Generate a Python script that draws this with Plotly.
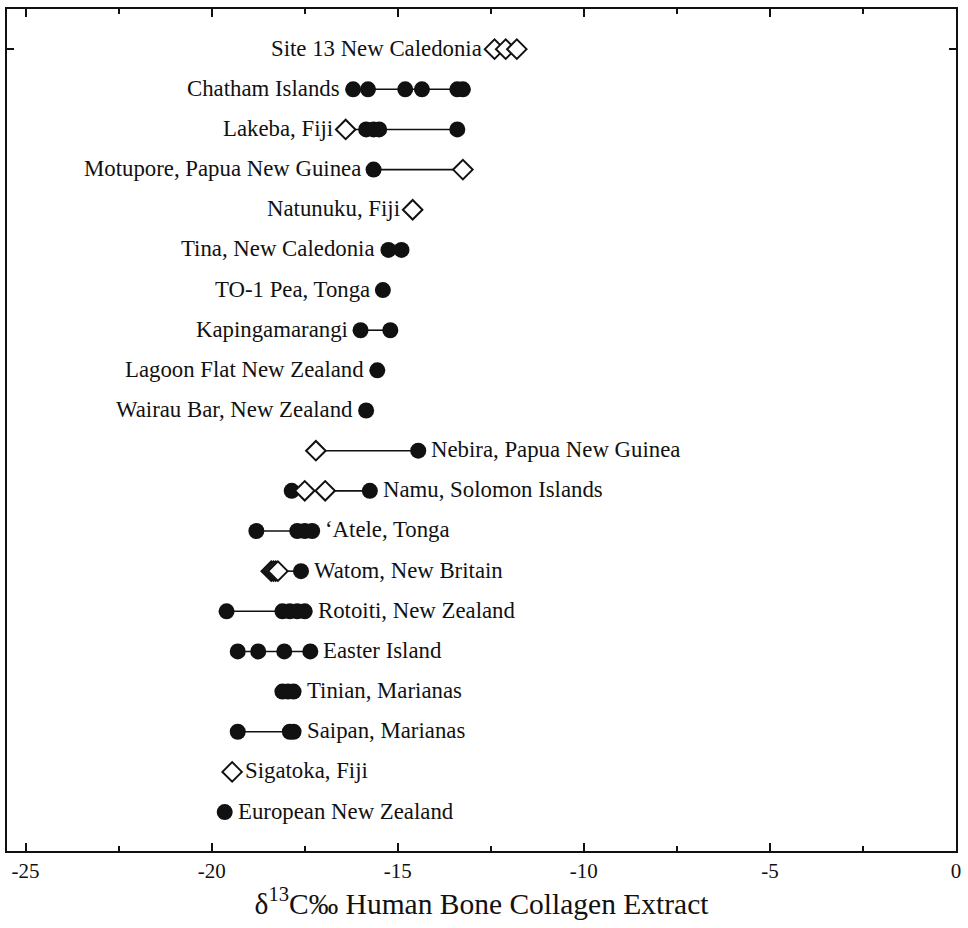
import plotly.graph_objects as go

# Sites, top to bottom
sites = [
    "Site 13 New Caledonia",
    "Chatham Islands",
    "Lakeba, Fiji",
    "Motupore, Papua New Guinea",
    "Natunuku, Fiji",
    "Tina, New Caledonia",
    "TO-1 Pea, Tonga",
    "Kapingamarangi",
    "Lagoon Flat New Zealand",
    "Wairau Bar, New Zealand",
    "Nebira, Papua New Guinea",
    "Namu, Solomon Islands",
    "\u2018Atele, Tonga",
    "Watom, New Britain",
    "Rotoiti, New Zealand",
    "Easter Island",
    "Tinian, Marianas",
    "Saipan, Marianas",
    "Sigatoka, Fiji",
    "European New Zealand",
]

# delta13C values (per mil) shown as filled circles
filled_values = [
    [],
    [-16.2, -15.8, -14.8, -14.35, -13.4, -13.25],
    [-15.85, -15.65, -15.5, -13.4],
    [-15.65],
    [],
    [-15.25, -14.9],
    [-15.4],
    [-16.0, -15.2],
    [-15.55],
    [-15.85],
    [-14.45],
    [-17.85, -15.75],
    [-18.8, -17.7, -17.5, -17.3],
    [-17.6],
    [-19.6, -18.1, -17.9, -17.7, -17.5],
    [-19.3, -18.75, -18.05, -17.35],
    [-18.1, -17.95, -17.8],
    [-19.3, -17.9, -17.8],
    [],
    [-19.65],
]

# delta13C values (per mil) shown as open diamonds
open_values = [
    [-12.4, -12.1, -11.8],
    [],
    [-16.4],
    [-13.25],
    [-14.6],
    [],
    [],
    [],
    [],
    [],
    [-17.2],
    [-17.5, -16.95],
    [],
    [-18.4, -18.34, -18.28, -18.22],
    [],
    [],
    [],
    [],
    [-19.45],
    [],
]

x_ticks = [-25, -20, -15, -10, -5, 0]
x_title = "\u03b4<sup>13</sup>C\u2030 Human Bone Collagen Extract"
n_left_labels = 10  # upper rows are labelled on the left of their points

SERIF = "Liberation Serif, Times New Roman, serif"
INK = "#111111"

fig = go.Figure()

# connecting lines (drawn first so markers sit on top)
for i, site in enumerate(sites):
    vals = sorted(filled_values[i] + open_values[i])
    if len(vals) > 1:
        fig.add_trace(go.Scatter(
            x=[vals[0], vals[-1]], y=[i, i], mode="lines",
            line=dict(color=INK, width=1.6), hoverinfo="skip", showlegend=False))

# filled circles
fx, fy = [], []
for i, vals in enumerate(filled_values):
    for v in vals:
        fx.append(v)
        fy.append(i)
fig.add_trace(go.Scatter(
    x=fx, y=fy, mode="markers", showlegend=False,
    marker=dict(symbol="circle", size=16, color=INK, line=dict(width=0))))

# open diamonds
ox, oy = [], []
for i, vals in enumerate(open_values):
    for v in vals:
        ox.append(v)
        oy.append(i)
fig.add_trace(go.Scatter(
    x=ox, y=oy, mode="markers", showlegend=False,
    marker=dict(symbol="diamond", size=15, color="white",
                line=dict(width=2, color=INK))))

# site labels
for i, site in enumerate(sites):
    vals = filled_values[i] + open_values[i]
    if i < n_left_labels:
        fig.add_annotation(x=min(vals), y=i, text=site, showarrow=False,
                           xanchor="right", xshift=-11, yshift=1,
                           font=dict(family=SERIF, size=22.8, color=INK))
    else:
        fig.add_annotation(x=max(vals), y=i, text=site, showarrow=False,
                           xanchor="left", xshift=11, yshift=1,
                           font=dict(family=SERIF, size=22.8, color=INK))

fig.update_layout(
    width=968, height=928,
    margin=dict(l=7, r=7, t=7, b=77),
    paper_bgcolor="white", plot_bgcolor="white",
    font=dict(family=SERIF, color=INK),
    xaxis=dict(
        range=[-25.5, 0], tickvals=x_ticks,
        ticktext=[str(t) for t in x_ticks],
        ticks="inside", ticklen=8, tickwidth=1.5, tickcolor=INK,
        minor=dict(dtick=2.5, tick0=0, ticks="inside", ticklen=5,
                   tickwidth=1.5, tickcolor=INK, showgrid=False),
        showgrid=False, zeroline=False,
        showline=True, linecolor=INK, linewidth=2, mirror="allticks",
        tickfont=dict(family=SERIF, size=21, color=INK),
        title=dict(text=x_title, font=dict(family=SERIF, size=29.5, color=INK),
                   standoff=6),
    ),
    yaxis=dict(
        range=[19.97, -1.0], tickvals=[0], showticklabels=False,
        ticks="inside", ticklen=7, tickwidth=1.5, tickcolor=INK,
        showgrid=False, zeroline=False,
        showline=True, linecolor=INK, linewidth=2, mirror="allticks",
    ),
)

fig.write_html("out.html")
